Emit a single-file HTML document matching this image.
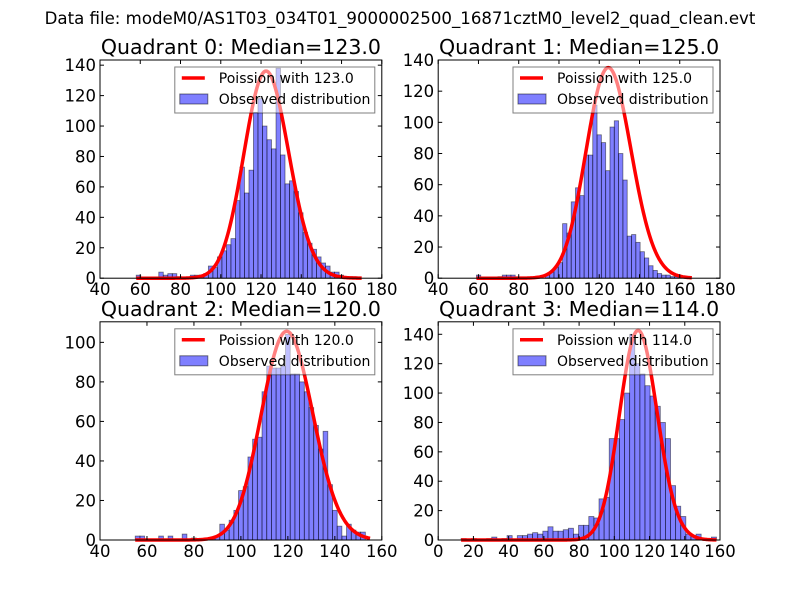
<!DOCTYPE html>
<html><head><meta charset="utf-8">
<style>
html,body{margin:0;padding:0;background:#fff;}
svg{display:block;font-family:"DejaVu Sans","Liberation Sans",sans-serif;}
</style></head>
<body>
<svg id="fig" width="800" height="600" viewBox="0 0 800 600" xmlns="http://www.w3.org/2000/svg">
<rect x="0" y="0" width="800" height="600" fill="#fff"/>
<text x="400" y="24" font-size="16.6" text-anchor="middle">Data file: modeM0/AS1T03_034T01_9000002500_16871cztM0_level2_quad_clean.evt</text>
</svg>
<script>
// ---- data ----
const quadrantNames = ["Quadrant 0","Quadrant 1","Quadrant 2","Quadrant 3"];
const medians = [123.0, 125.0, 120.0, 114.0];
const binStarts = [58, 59, 55, 13];
const binWidths = [2.24, 2.14, 2.0, 2.9];
const counts0 = [2,0,0,0,0,4,2,3,3,1, 0,0,2,2,2,3,8,7,14,18, 22,26,51,73,56,71,109,118,100,91, 85,138,81,62,64,57,43,30,23,19, 14,10,8,4,4,2,1,1,1,0];
const counts1 = [2,0,0,0,0,1,2,2,2,0, 0,0,0,0,0,0,2,4,7,10, 35,29,49,58,53,79,79,111,92,87, 69,97,101,80,63,27,28,23,17,13, 8,5,3,2,2,1,1,0,0,0];
const counts2 = [2,2,0,0,0,2,0,2,0,0, 3,0,1,0,0,1,1,2,8,5, 10,15,25,27,42,51,52,75,88,87, 87,88,104,84,84,80,75,67,58,46, 55,28,15,7,2,8,5,4,4,0];
const counts3 = [1,0,1,0,0,1,2,0,1,3, 0,3,3,4,5,4,6,9,6,6, 7,8,4,10,10,16,15,28,29,69, 69,82,100,140,120,113,105,98,91,80, 69,37,23,16,4,3,4,1,0,2];
const allCounts = [counts0, counts1, counts2, counts3];
const curvePeaks = [136, 135, 105.5, 142.5];
const xMins = [40, 40, 40, 0];
const xMaxs = [180, 180, 160, 160];
const xTicks0 = [40,60,80,100,120,140,160,180];
const xTicks2 = [40,60,80,100,120,140,160];
const xTicks3 = [0,20,40,60,80,100,120,140,160];
const xTickSets = [xTicks0, xTicks0, xTicks2, xTicks3];
const yTicks0 = [0,20,40,60,80,100,120,140];
const yTicks2 = [0,20,40,60,80,100];
const yTickSets = [yTicks0, yTicks0, yTicks2, yTicks0];
const yMaxs = [143.4, 140, 110.4, 148.5];

// ---- layout ----
const NS = "http://www.w3.org/2000/svg";
const svg = document.getElementById('fig');
const boxes = [[100,60],[438.2,60],[100,321.8],[438.2,321.8]];
const AW = 281.8, AH = 218.2;
function mk(tag, attrs, parent){
  const e = document.createElementNS(NS, tag);
  for (const k in attrs) e.setAttribute(k, attrs[k]);
  (parent||svg).appendChild(e);
  return e;
}
function lnFact(x){ if (x < 1) return 0; return x*Math.log(x) - x + 0.5*Math.log(2*Math.PI*x) + 1/(12*x); }
function pois(k, mu){ return Math.exp(k*Math.log(mu) - mu - lnFact(k)); }

for (let q=0; q<4; q++){
  const [L,T] = boxes[q];
  const xs = v => L + (v - xMins[q]) / (xMaxs[q]-xMins[q]) * AW;
  const ys = v => T + AH - v / yMaxs[q] * AH;
  const g = mk('g', {});
  
  

  const bg = mk('g', {}, g);
  
  
  const c = allCounts[q];
  for (let i=0;i<c.length;i++){
    if (c[i] <= 0) continue;
    const x0 = xs(binStarts[q] + i*binWidths[q]);
    const x1 = xs(binStarts[q] + (i+1)*binWidths[q]);
    const r = mk('rect', {x:x0, y:ys(c[i]), width:x1-x0, height:ys(0)-ys(c[i]),
      fill:'rgba(0,0,255,0.5)', stroke:'rgba(0,0,0,0.5)', 'stroke-width':0.8}, bg);
    
    
  }
  const mu = medians[q];
  const scale = curvePeaks[q] / pois(mu, mu);
  const k0 = binStarts[q], k1 = binStarts[q] + c.length*binWidths[q];
  let d = '';
  for (let k=k0; k<=k1; k+=0.5){
    d += (d ? 'L' : 'M') + xs(k).toFixed(2) + ',' + ys(scale*pois(k, mu)).toFixed(2);
  }
  const cp = mk('path', {d:d, fill:'none', stroke:'#ff0000', 'stroke-width':3.5, 'stroke-linejoin':'round'}, g);
  
  

  const fr = mk('rect', {x:L, y:T, width:AW, height:AH, fill:'none', stroke:'#000', 'stroke-width':1}, g);
  
  

  for (const t of xTickSets[q]){
    const x = xs(t);
    mk('line', {x1:x, y1:T+AH, x2:x, y2:T+AH-4, stroke:'#000'}, g);
    mk('line', {x1:x, y1:T, x2:x, y2:T+4, stroke:'#000'}, g);
    const tl = mk('text', {x:x, y:T+AH+17, 'font-size':16.5, 'text-anchor':'middle'}, g);
    tl.textContent = t;
    
    
  }
  for (const t of yTickSets[q]){
    const y = ys(t);
    mk('line', {x1:L, y1:y, x2:L+4, y2:y, stroke:'#000'}, g);
    mk('line', {x1:L+AW, y1:y, x2:L+AW-4, y2:y, stroke:'#000'}, g);
    const tl = mk('text', {x:L-4, y:y+6, 'font-size':16.5, 'text-anchor':'end'}, g);
    tl.textContent = t;
    
    
  }

  const ti = mk('text', {x:L+AW/2, y:T-6, 'font-size':20.5, 'text-anchor':'middle'}, g);
  ti.textContent = quadrantNames[q] + ': Median=' + mu.toFixed(1);
  
  

  const lg = mk('g', {}, g);
  
  
  const lx = L+AW-207, ly = T+7;
  mk('rect', {x:lx, y:ly, width:200, height:46, fill:'rgba(255,255,255,0.5)', stroke:'rgba(0,0,0,0.5)', 'stroke-width':1}, lg);
  mk('line', {x1:lx+7, y1:ly+11, x2:lx+30, y2:ly+11, stroke:'#ff0000', 'stroke-width':3.5}, lg);
  const t1 = mk('text', {x:lx+44, y:ly+16, 'font-size':14}, lg);
  t1.textContent = 'Poission with ' + mu.toFixed(1);
  
  
  mk('rect', {x:lx+5, y:ly+27, width:28, height:10, fill:'rgba(0,0,255,0.5)', stroke:'rgba(0,0,0,0.5)'}, lg);
  const t2 = mk('text', {x:lx+44, y:ly+37, 'font-size':14}, lg);
  t2.textContent = 'Observed distribution';
  
  
}
</script>
</body></html>
